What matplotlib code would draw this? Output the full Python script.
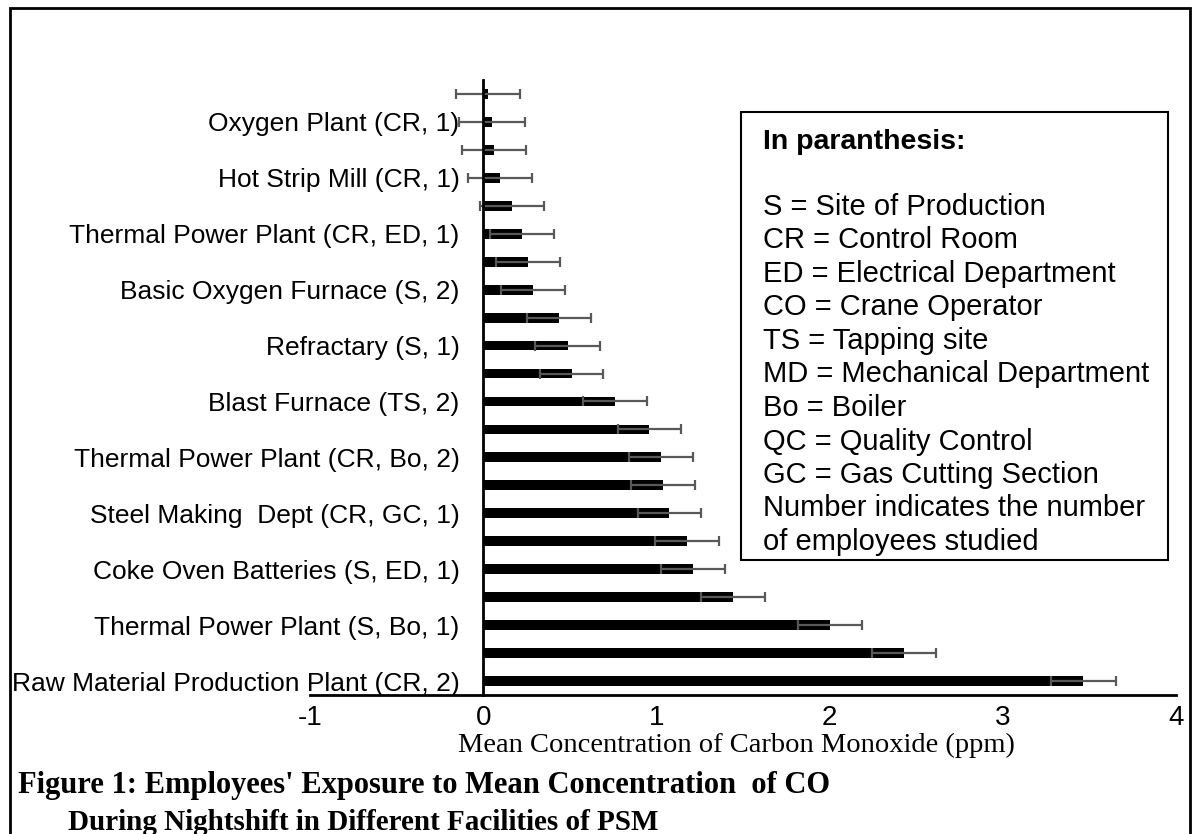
import numpy as np
import matplotlib
matplotlib.use('Agg')
import matplotlib.pyplot as plt
from matplotlib.patches import Rectangle

# bars listed from bottom to top
labels = ['Raw Material Production Plant (CR, 2)', '',
          'Thermal Power Plant (S, Bo, 1)', '',
          'Coke Oven Batteries (S, ED, 1)', '',
          'Steel Making  Dept (CR, GC, 1)', '',
          'Thermal Power Plant (CR, Bo, 2)', '',
          'Blast Furnace (TS, 2)', '',
          'Refractary (S, 1)', '',
          'Basic Oxygen Furnace (S, 2)', '',
          'Thermal Power Plant (CR, ED, 1)', '',
          'Hot Strip Mill (CR, 1)', '',
          'Oxygen Plant (CR, 1)', '']
means = [3.465, 2.43, 2.0, 1.44, 1.21, 1.176, 1.075, 1.039, 1.027, 0.96, 0.763,
         0.51, 0.487, 0.44, 0.29, 0.257, 0.222, 0.165, 0.098, 0.06, 0.05, 0.027]
errors = [0.188, 0.185, 0.185, 0.185, 0.184, 0.184, 0.184, 0.184, 0.184, 0.184, 0.184,
          0.184, 0.19, 0.185, 0.185, 0.184, 0.184, 0.184, 0.184, 0.185, 0.19, 0.185]
x_ticks = [-1, 0, 1, 2, 3, 4]

legend_title = 'In paranthesis:'
legend_lines = ['S = Site of Production', 'CR = Control Room', 'ED = Electrical Department',
                'CO = Crane Operator', 'TS = Tapping site', 'MD = Mechanical Department',
                'Bo = Boiler', 'QC = Quality Control', 'GC = Gas Cutting Section',
                'Number indicates the number', 'of employees studied']

W, H = 1196, 834


def fx(x):
    return x / W


def fy(y):
    return 1 - y / H


plt.rcParams['font.family'] = 'Liberation Sans'
serif = 'Liberation Serif'

fig = plt.figure(figsize=(W / 100, H / 100), dpi=100)
ax = fig.add_axes([fx(310), fy(695), fx(1176) - fx(310), fy(80) - fy(695)])

pos = np.arange(len(means))
ax.barh(pos, means, height=0.35, color='black')
ax.errorbar(means, pos, xerr=errors, fmt='none', ecolor='#595959',
            elinewidth=1.6, capsize=3.6, capthick=1.6)

ax.set_xlim(-1, 4)
ax.set_ylim(-0.5, len(means) - 0.5)
ax.set_xticks(x_ticks)
ax.set_xticklabels([str(t) for t in x_ticks])
ax.set_yticks(pos)
ax.set_yticklabels(labels)
ax.tick_params(axis='x', length=0, pad=7, labelsize=20)
ax.tick_params(axis='y', length=0, pad=17, labelsize=19)

ax.spines['left'].set_position(('data', 0))
ax.spines['left'].set_linewidth(2)
ax.spines['bottom'].set_linewidth(2)
ax.spines['top'].set_visible(False)
ax.spines['right'].set_visible(False)

fig.text(fx(736), fy(745), 'Mean Concentration of Carbon Monoxide (ppm)',
         family=serif, fontsize=20.5, ha='center', va='center')

# caption under the chart
fig.text(fx(18), fy(786), "Figure 1: Employees' Exposure to Mean Concentration  of CO",
         family=serif, fontsize=22, fontweight='bold', ha='left', va='center')
fig.text(fx(68), fy(822), 'During Nightshift in Different Facilities of PSM',
         family=serif, fontsize=21, fontweight='bold', ha='left', va='center')

# notes box
fig.patches.append(Rectangle((fx(741), fy(560)), fx(1168) - fx(741), fy(112) - fy(560),
                             transform=fig.transFigure, fill=False, edgecolor='black',
                             linewidth=1.5))
fig.text(fx(763), fy(142), legend_title, fontsize=20.5,
         fontweight='bold', ha='left', va='center')
for i, line in enumerate(legend_lines):
    fig.text(fx(763), fy(207 + i * 33.5), line, fontsize=21,
             ha='left', va='center')

# outer frame
fig.patches.append(Rectangle((fx(10), fy(850)), fx(1190) - fx(10), fy(8) - fy(850),
                             transform=fig.transFigure, fill=False, edgecolor='black',
                             linewidth=2, clip_on=False))

fig.savefig('out.png', dpi=100)
